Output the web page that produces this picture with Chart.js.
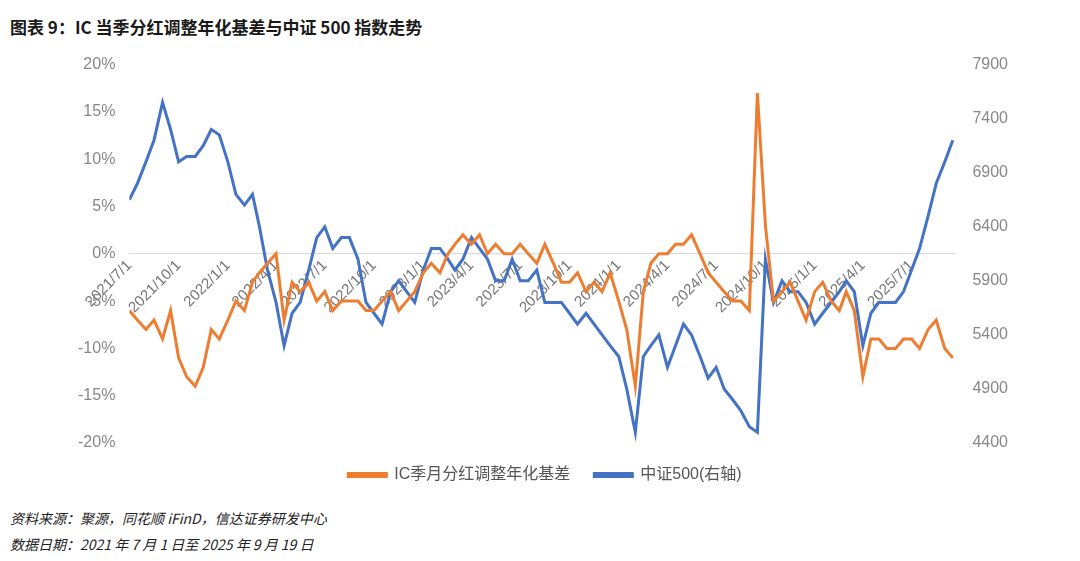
<!DOCTYPE html>
<html><head><meta charset="utf-8">
<script src="https://cdn.jsdelivr.net/npm/chart.js@4"></script>
<style>
body{margin:0;width:1080px;height:561px;background:#fff;font-family:"Noto Sans CJK SC","Liberation Sans",sans-serif;position:relative;overflow:hidden}
#title{position:absolute;left:10px;top:14px;font-size:17px;font-weight:bold;color:#1a1a1a}
#src{position:absolute;left:10px;top:508px;font-size:14px;font-style:italic;color:#222}
#dt{position:absolute;left:10px;top:534px;font-size:14px;font-style:italic;color:#222}
#wrap{position:absolute;left:0;top:45px;width:1080px;height:448px}
</style></head><body>
<div id="title">图表 9：IC 当季分红调整年化基差与中证 500 指数走势</div>
<div id="wrap"><canvas id="c"></canvas></div>
<div id="src">资料来源：聚源，同花顺 iFinD，信达证券研发中心</div>
<div id="dt">数据日期：2021 年 7 月 1 日至 2025 年 9 月 19 日</div>
<script>
const seriesNames = ["IC季月分红调整年化基差", "中证500(右轴)"];
const tickLabels = ["2021/7/1","2021/10/1","2022/1/1","2022/4/1","2022/7/1","2022/10/1","2023/1/1","2023/4/1","2023/7/1","2023/10/1","2024/1/1","2024/4/1","2024/7/1","2024/10/1","2025/1/1","2025/4/1","2025/7/1"];
// sample dates: 1st and 16th of each month, 2021-07 .. 2025-09
const sampleDays = [1, 16];
const basis = [
-6,-7,-8,-7,-9,-6,-11,-13,-14,-12,-8,-9,
-7,-5,-6,-3,-2,-1,0,-7,-3,-4,-3,-5,-4,-6,-5,-5,-5,-6,-6,-5,-4,-6,-5,-4,
-2,-1,-2,0,1,2,1,2,0,1,0,0,1,0,-1,1,-1,-3,-3,-2,-4,-3,-4,-2,
-5,-8,-14,-4,-1,0,0,1,1,2,0,-2,-3,-4,-5,-5,-6,17,3,-5,-4,-3,-5,-7,
-4,-3,-5,-6,-4,-6,-13,-9,-9,-10,-10,-9,-9,-10,-8,-7,-10,-11];
const csi500 = [
6650,6800,7000,7200,7550,7300,7000,7050,7050,7150,7300,7250,
7000,6700,6600,6700,6400,6000,5700,5300,5600,5700,6000,6300,6400,6200,6300,6300,6100,5700,5600,5500,5800,5900,5800,5700,
6000,6200,6200,6100,6000,6100,6300,6200,6100,5900,5900,6100,5900,5900,6000,5700,5700,5700,5600,5500,5600,5500,5400,5300,
5200,4900,4500,5200,5300,5400,5100,5300,5500,5400,5200,5000,5100,4900,4800,4700,4550,4500,6100,5700,5900,5800,5800,5700,
5500,5600,5700,5800,5900,5800,5300,5600,5700,5700,5700,5800,6000,6200,6500,6800,7000,7200];

const DAY = 86400000, t0 = Date.UTC(2021,6,1);
const toDays = s => { const [y,m,d] = s.split('/').map(Number); return (Date.UTC(y,m-1,d)-t0)/DAY; };
const xs = [];
for (let i = 0; i < basis.length; i++) {
  const mi = Math.floor(i/2), y = 2021 + Math.floor((6+mi)/12), m = (6+mi)%12;
  xs.push((Date.UTC(y,m,sampleDays[i%2]) - t0)/DAY);
}
const tickDays = tickLabels.map(toDays);
const tickMap = {}; tickLabels.forEach((l,i)=>tickMap[tickDays[i]]=l);

new Chart(document.getElementById('c'), {
  type: 'line',
  data: { datasets: [
    { label: seriesNames[0], data: basis.map((v,i)=>({x:xs[i],y:v})), borderColor:'#ED7D31', backgroundColor:'#ED7D31', borderWidth:3, pointRadius:0, yAxisID:'y', tension:0 },
    { label: seriesNames[1], data: csi500.map((v,i)=>({x:xs[i],y:v})), borderColor:'#4472C4', backgroundColor:'#4472C4', borderWidth:3, pointRadius:0, yAxisID:'y2', tension:0 }
  ]},
  options: {
    animation:false, responsive:true, maintainAspectRatio:false,
    layout:{padding:{left:72,right:62,top:8,bottom:0}},
    plugins:{ legend:{ position:'bottom', labels:{ font:{size:16,family:'Liberation Sans, Noto Sans CJK SC'}, color:'#555', boxWidth:38, boxHeight:3, padding:24 } }, tooltip:{enabled:false} },
    scales:{
      x:{ type:'linear', min:0, max:toDays('2025/9/19'), position:{y:0},
        afterBuildTicks: ax => { ax.ticks = tickDays.map(v=>({value:v})); },
        ticks:{ callback: v => tickMap[v] || '', minRotation:45, maxRotation:45, color:'#777', font:{size:15,family:'Liberation Sans'}, autoSkip:false },
        grid:{ display:false, drawTicks:false }, border:{ color:'#d9d9d9', width:1 } },
      y:{ position:'left', min:-20, max:20, ticks:{ stepSize:5, callback:v=>v+'%', color:'#888', font:{size:16,family:'Liberation Sans'}, padding:6 }, grid:{display:false}, border:{display:false} },
      y2:{ position:'right', min:4400, max:7900, ticks:{ stepSize:500, callback:v=>String(v), color:'#888', font:{size:16,family:'Liberation Sans'}, padding:10 }, grid:{display:false}, border:{display:false} }
    }
  }
});
</script></body></html>
